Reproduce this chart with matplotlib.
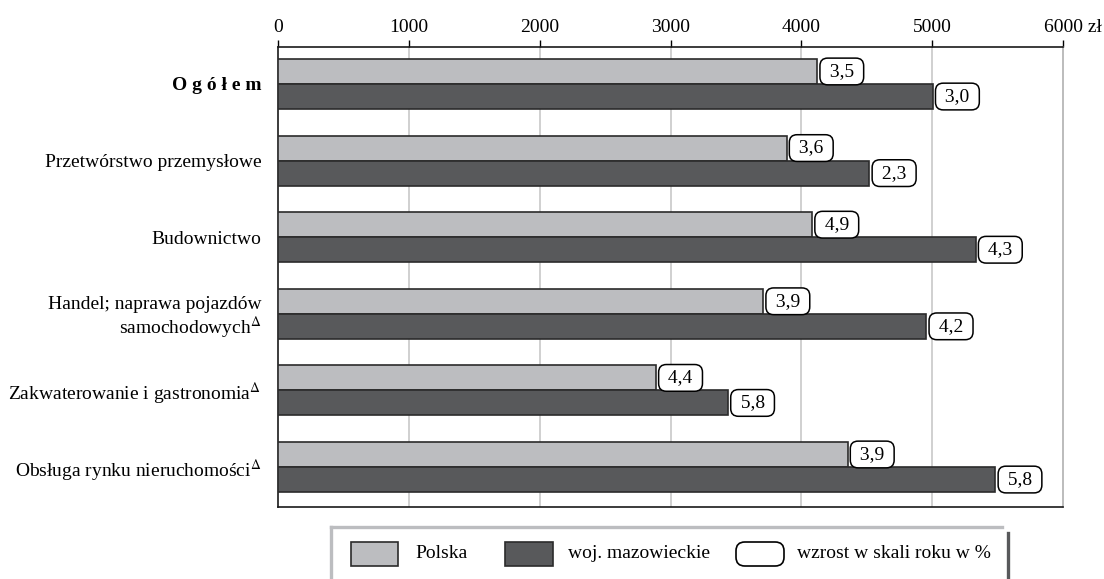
import matplotlib
matplotlib.use('Agg')
import matplotlib.pyplot as plt
import matplotlib.transforms as mtransforms
from matplotlib.patches import Rectangle, FancyBboxPatch
from matplotlib.lines import Line2D

plt.rcParams['font.family'] = ['Liberation Serif', 'DejaVu Serif']
plt.rcParams['mathtext.fontset'] = 'stix'

# data (average gross wage, zł)
categories = ['O g ó ł e m',
              'Przetwórstwo przemysłowe',
              'Budownictwo',
              'Handel; naprawa pojazdów\nsamochodowych$^{\\Delta}$',
              'Zakwaterowanie i gastronomia$^{\\Delta}$',
              'Obsługa rynku nieruchomości$^{\\Delta}$']
polska = [4121, 3887, 4082, 3708, 2888, 4353]
mazowieckie = [5004, 4520, 5332, 4955, 3439, 5483]
polska_growth = ['3,5', '3,6', '4,9', '3,9', '4,4', '3,9']
maz_growth = ['3,0', '2,3', '4,3', '4,2', '5,8', '5,8']
xticks = [0, 1000, 2000, 3000, 4000, 5000, 6000]
xticklabels = ['0', '1000', '2000', '3000', '4000', '5000', '6000 zł']

c_pl = '#bcbdc0'
c_maz = '#58595b'
edge = '#2b2b2b'
fs = 14

fig = plt.figure(figsize=(11.04, 5.79), dpi=100)
W, H = 1104, 579
ax = fig.add_axes([278 / W, 1 - 507 / H, (1063 - 278) / W, (507 - 47) / H])

bh = 0.327
ypos = list(range(len(categories)))
ax.barh([y - bh / 2 for y in ypos], polska, height=bh, color=c_pl,
        edgecolor=edge, linewidth=1.2, zorder=3)
ax.barh([y + bh / 2 for y in ypos], mazowieckie, height=bh, color=c_maz,
        edgecolor=edge, linewidth=1.2, zorder=3)

box = dict(boxstyle='round,pad=0.25,rounding_size=0.4', fc='white', ec='black', lw=1.1)
for y, v, g in zip(ypos, polska, polska_growth):
    ax.annotate(' ' + g + ' ', (v, y - bh / 2), xytext=(5.5, 0), textcoords='offset points',
                ha='left', va='center', fontsize=fs, zorder=4, bbox=box)
for y, v, g in zip(ypos, mazowieckie, maz_growth):
    ax.annotate(' ' + g + ' ', (v, y + bh / 2), xytext=(5.5, 0), textcoords='offset points',
                ha='left', va='center', fontsize=fs, zorder=4, bbox=box)

ax.set_xlim(0, 6000)
ax.set_ylim(5.522, -0.483)
ax.set_xticks(xticks)
ax.set_xticklabels(xticklabels)
ax.xaxis.tick_top()
ax.tick_params(axis='x', direction='out', length=5, width=1, pad=3, labelsize=fs)
# keep "6000" centred on its tick, "zł" hanging to the right
last = ax.get_xticklabels()[-1]
last.set_transform(last.get_transform() +
                   mtransforms.ScaledTranslation(10 / 100, 0, fig.dpi_scale_trans))
ax.set_yticks(ypos)
ax.set_yticklabels(categories, fontsize=fs, linespacing=1.1)
ax.tick_params(axis='y', length=0, pad=12)
ax.get_yticklabels()[0].set_fontweight('bold')

for x in xticks[1:-1]:
    ax.axvline(x, color='#c8c8c8', lw=1.2, zorder=1)
for s in ['top', 'left', 'bottom']:
    ax.spines[s].set_color('#1a1a1a')
    ax.spines[s].set_linewidth(1.2)
ax.spines['right'].set_color('#b0b0b0')
ax.spines['right'].set_linewidth(1.2)

# legend frame drawn by hand
def fx(px):
    return px / W

def fy(py):
    return 1 - py / H

fig.add_artist(Line2D([fx(331), fx(1002)], [fy(527), fy(527)], color=c_pl, lw=2.4))
fig.add_artist(Line2D([fx(331), fx(331)], [fy(527), fy(579)], color=c_pl, lw=2.4))
fig.add_artist(Line2D([fx(1008), fx(1008)], [fy(533), fy(579)], color=c_maz, lw=2.4))

fig.add_artist(Rectangle((fx(351), fy(566)), fx(47), 24 / H, fc=c_pl, ec=edge, lw=1.2))
fig.text(fx(415), fy(554), 'Polska', fontsize=fs, va='center')
fig.add_artist(Rectangle((fx(505), fy(566)), fx(48), 24 / H, fc=c_maz, ec=edge, lw=1.2))
fig.text(fx(568), fy(554), 'woj. mazowieckie', fontsize=fs, va='center')
fig.add_artist(FancyBboxPatch((fx(736), fy(566)), fx(48), 24 / H,
                              boxstyle='round,pad=0,rounding_size=0.008',
                              fc='white', ec='black', lw=1.2,
                              mutation_aspect=W / H))
fig.text(fx(797), fy(554), 'wzrost w skali roku w %', fontsize=fs, va='center')

fig.savefig('out.png', dpi=100)
